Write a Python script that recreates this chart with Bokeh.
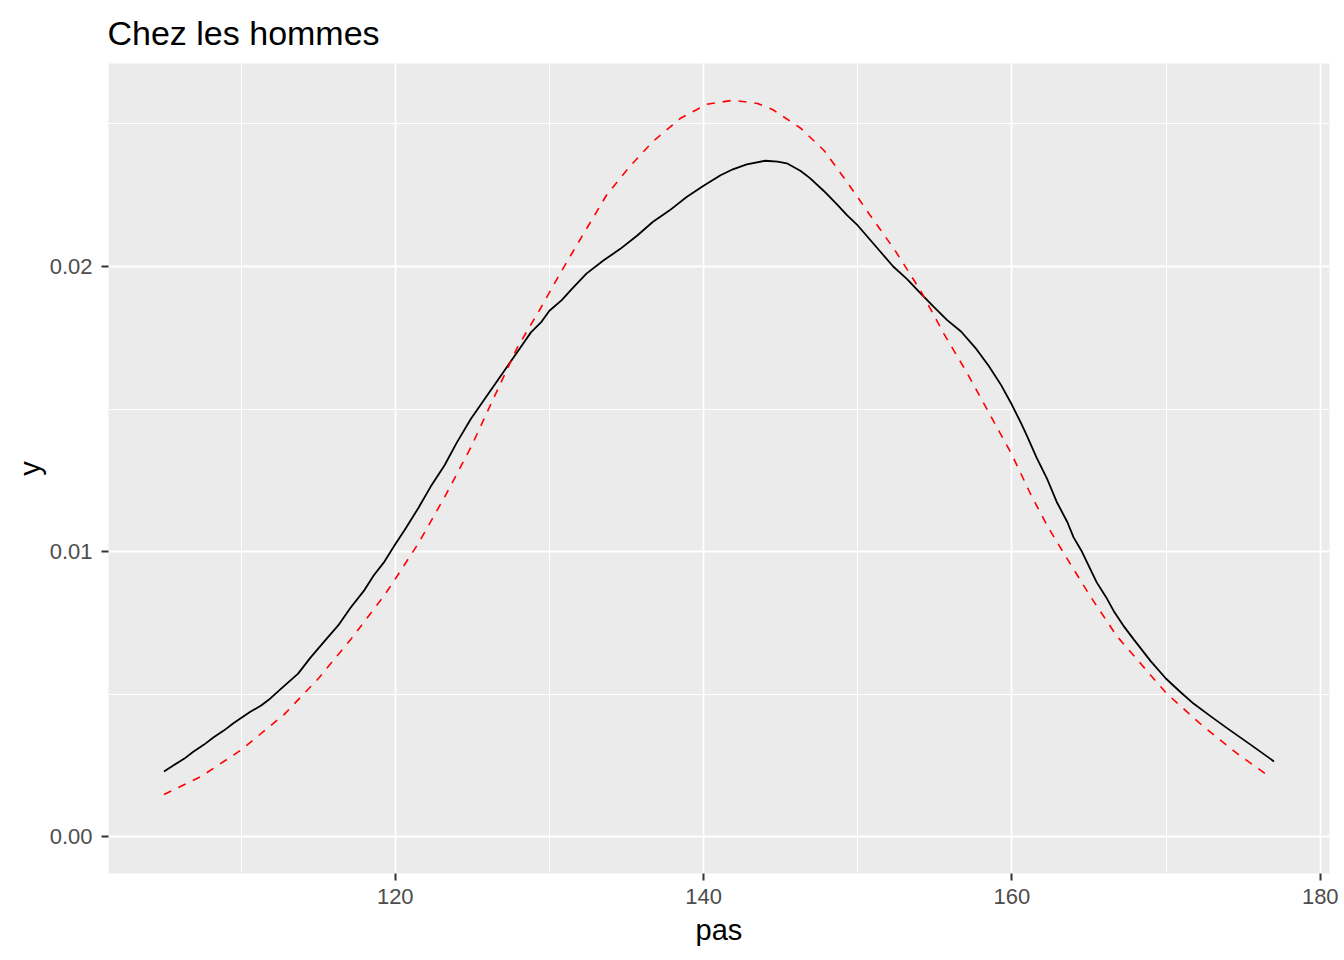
from bokeh.plotting import figure
from bokeh.models import ColumnDataSource, FixedTicker, Range1d
from bokeh.embed import file_html
from bokeh.resources import INLINE

# Kernel density of "pas" (black solid line)
dens_x = [105.0, 105.6, 106.3, 106.9, 107.6, 108.2, 108.9, 109.5, 110.0, 110.6,
          111.3, 111.9, 112.8, 113.7, 114.5, 115.4, 116.3, 117.1, 118.0, 118.6,
          119.3, 120.0, 120.6, 121.5, 122.3, 123.2, 124.0, 124.9, 125.8, 126.5,
          127.3, 128.1, 128.8, 129.5, 130.0, 130.8, 131.4, 132.4, 133.5, 134.6,
          135.7, 136.7, 137.8, 138.9, 140.0, 141.1, 141.9, 142.8, 144.0, 144.8,
          145.4, 146.3, 146.9, 147.8, 148.7, 149.3, 150.0, 151.5, 152.3, 153.2,
          154.0, 154.9, 155.8, 156.7, 157.7, 158.5, 159.3, 160.0, 160.6, 161.0,
          161.6, 162.3, 162.9, 163.6, 164.0, 164.5, 165.5, 166.1, 166.6, 167.3,
          167.9, 169.0, 170.0, 171.0, 171.8, 172.9, 174.0, 175.5, 177.0]
dens_y = [0.00229, 0.00250, 0.00273, 0.00298, 0.00323, 0.00348, 0.00373, 0.00398, 0.00416, 0.00438,
          0.00460, 0.00485, 0.00529, 0.00572, 0.00628, 0.00685, 0.00741, 0.00803, 0.00865, 0.00916,
          0.00965, 0.01026, 0.01075, 0.01153, 0.01228, 0.01303, 0.01383, 0.01465, 0.01535, 0.01590,
          0.01652, 0.01714, 0.01769, 0.01807, 0.01845, 0.01882, 0.01918, 0.01975, 0.02021, 0.02062,
          0.02109, 0.02156, 0.02197, 0.02244, 0.02283, 0.02320, 0.02341, 0.02358, 0.02371, 0.02368,
          0.02362, 0.02335, 0.02310, 0.02265, 0.02215, 0.02180, 0.02144, 0.02050, 0.02000, 0.01956,
          0.01910, 0.01860, 0.01812, 0.01772, 0.01710, 0.01651, 0.01584, 0.01515, 0.01450, 0.01403,
          0.01330, 0.01253, 0.01175, 0.01103, 0.01050, 0.01004, 0.00892, 0.00841, 0.00792, 0.00735,
          0.00692, 0.00616, 0.00554, 0.00504, 0.00466, 0.00422, 0.00379, 0.00322, 0.00264]

# Normal density (red dashed line)
norm_x = [105.0, 107.4, 110.0, 112.8, 115.0, 117.1, 119.3, 120.0, 121.5, 123.2,
          124.9, 126.4, 127.9, 129.4, 130.5, 131.5, 132.6, 133.7, 135.2, 136.7,
          138.5, 140.2, 141.9, 143.5, 144.5, 146.3, 147.8, 149.3, 150.8, 152.4,
          154.1, 155.6, 157.1, 158.6, 160.0, 161.2, 162.3, 163.4, 165.1, 166.8,
          168.8, 170.0, 172.3, 174.6, 176.8]
norm_y = [0.00148, 0.00211, 0.00304, 0.00429, 0.00554, 0.00691, 0.00847, 0.00904, 0.01029, 0.01191,
          0.01365, 0.01540, 0.01714, 0.01851, 0.01957, 0.02050, 0.02150, 0.02250, 0.02350, 0.02438,
          0.02520, 0.02569, 0.02583, 0.02572, 0.02550, 0.02485, 0.02408, 0.02297, 0.02180, 0.02058,
          0.01913, 0.01763, 0.01626, 0.01478, 0.01340, 0.01203, 0.01090, 0.00991, 0.00842, 0.00704,
          0.00579, 0.00504, 0.00392, 0.00292, 0.00207]

x_ticks = [120, 140, 160, 180]
x_minor = [110, 130, 150, 170]
y_ticks = [0.00, 0.01, 0.02]
y_minor = [0.005, 0.015, 0.025]
y_labels = {0.00: "0.00", 0.01: "0.01", 0.02: "0.02"}

title_text = "Chez les hommes"
x_title = "pas"
y_title = "y"

# ggplot-like 5% expansion
xmin = min(min(dens_x), min(norm_x))
xmax = max(max(dens_x), max(norm_x))
ymin = 0.0
ymax = max(max(dens_y), max(norm_y))
dx = (xmax - xmin) * 0.05
dy = (ymax - ymin) * 0.05

FONT = "Liberation Sans"

p = figure(width=1344, height=960, output_backend="svg", toolbar_location=None,
           x_range=Range1d(xmin - dx, xmax + dx), y_range=Range1d(ymin - dy, ymax + dy),
           min_border_left=108, min_border_right=15, min_border_top=62, min_border_bottom=87)

p.title.text = title_text
p.title.text_font = FONT
p.title.text_font_size = "34px"
p.title.text_font_style = "normal"
p.title.text_color = "black"
p.title.align = "left"
p.title.offset = -1
p.title.standoff = 23

p.background_fill_color = "#EBEBEB"
p.border_fill_color = "white"
p.outline_line_color = None

xt = FixedTicker(ticks=x_ticks, minor_ticks=x_minor)
yt = FixedTicker(ticks=y_ticks, minor_ticks=y_minor)
p.xaxis.ticker = xt
p.yaxis.ticker = yt
p.yaxis.major_label_overrides = y_labels

for ax in (p.xaxis[0], p.yaxis[0]):
    ax.axis_line_color = None
    ax.major_tick_line_color = "#333333"
    ax.major_tick_line_width = 2
    ax.major_tick_out = 7
    ax.major_tick_in = 0
    ax.minor_tick_line_color = None
    ax.major_label_text_font = FONT
    ax.major_label_text_font_size = "22px"
    ax.major_label_text_color = "#4D4D4D"
    ax.axis_label_text_font = FONT
    ax.axis_label_text_font_size = "29px"
    ax.axis_label_text_font_style = "normal"
    ax.axis_label_text_color = "black"

p.xaxis.axis_label = x_title
p.yaxis.axis_label = y_title
p.xaxis.major_label_standoff = 8
p.xaxis.axis_label_standoff = 7
p.yaxis.major_label_standoff = 9
p.yaxis.axis_label_standoff = 1

p.xgrid.ticker = xt
p.ygrid.ticker = yt
for g in (p.xgrid[0], p.ygrid[0]):
    g.grid_line_color = "white"
    g.grid_line_width = 1.8
    g.minor_grid_line_color = "white"
    g.minor_grid_line_width = 1

dens_src = ColumnDataSource(data=dict(x=dens_x, y=dens_y))
norm_src = ColumnDataSource(data=dict(x=norm_x, y=norm_y))

p.line("x", "y", source=dens_src, line_color="black", line_width=1.8)
p.line("x", "y", source=norm_src, line_color="red", line_width=1.6, line_dash="8 8")

open("out.html", "w").write(file_html(p, INLINE))
